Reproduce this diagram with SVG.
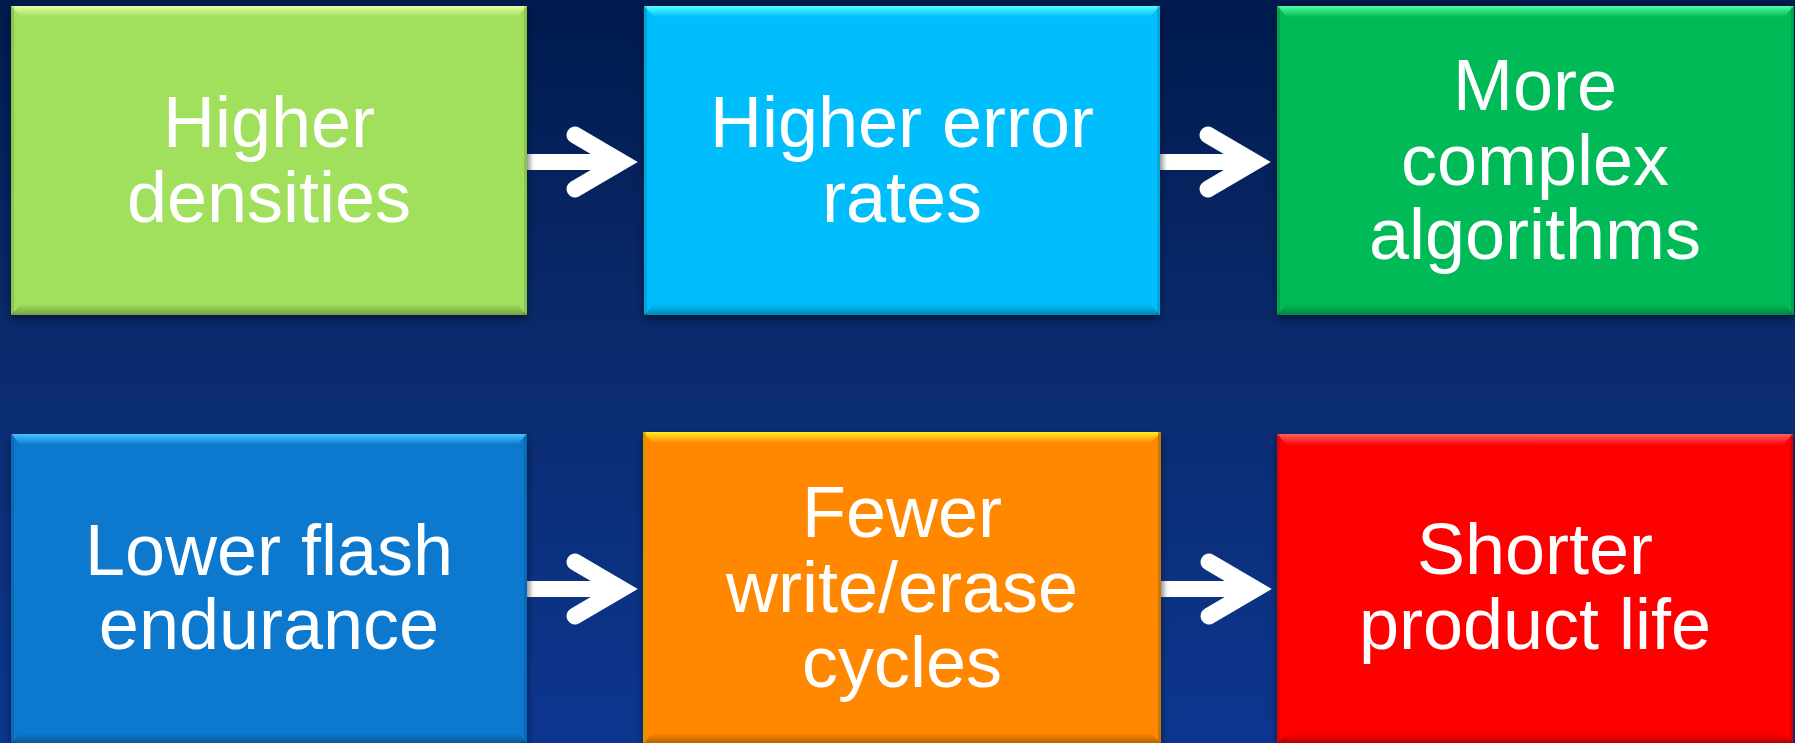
<svg xmlns="http://www.w3.org/2000/svg" width="1795" height="743" viewBox="0 0 1795 743">
<defs>
<linearGradient id="bg" x1="0" y1="0" x2="0" y2="1">
<stop offset="0" stop-color="#001A4D"/>
<stop offset="0.45" stop-color="#0A2A6C"/>
<stop offset="1" stop-color="#0C3690"/>
</linearGradient>
<linearGradient id="hl1" x1="0" y1="0" x2="0" y2="1"><stop offset="0" stop-color="#E4FFA8"/><stop offset="1" stop-color="#A0E05C"/></linearGradient>
<linearGradient id="hl2" x1="0" y1="0" x2="0" y2="1"><stop offset="0" stop-color="#50FFFF"/><stop offset="1" stop-color="#06BDFC"/></linearGradient>
<linearGradient id="hl3" x1="0" y1="0" x2="0" y2="1"><stop offset="0" stop-color="#50FF9C"/><stop offset="1" stop-color="#06BA58"/></linearGradient>
<linearGradient id="hl4" x1="0" y1="0" x2="0" y2="1"><stop offset="0" stop-color="#48C4FF"/><stop offset="1" stop-color="#0779CE"/></linearGradient>
<linearGradient id="hl5" x1="0" y1="0" x2="0" y2="1"><stop offset="0" stop-color="#FFF020"/><stop offset="1" stop-color="#FF8806"/></linearGradient>
<linearGradient id="hl6" x1="0" y1="0" x2="0" y2="1"><stop offset="0" stop-color="#FF6060"/><stop offset="1" stop-color="#FF0606"/></linearGradient>
<linearGradient id="dk" x1="0" y1="0" x2="0" y2="1"><stop offset="0" stop-color="#000" stop-opacity="0"/><stop offset="1" stop-color="#000" stop-opacity="0.28"/></linearGradient>
<linearGradient id="shaftg" x1="0" y1="0" x2="1" y2="0"><stop offset="0" stop-color="#C8C8C8"/><stop offset="0.08" stop-color="#FFFFFF"/><stop offset="1" stop-color="#FFFFFF"/></linearGradient>
<filter id="sh" x="-5%" y="-5%" width="110%" height="115%">
<feDropShadow dx="0" dy="4" stdDeviation="4" flood-color="#000" flood-opacity="0.45"/>
</filter>
<g id="arrow">
<rect x="527" y="154" width="80" height="16" fill="url(#shaftg)"/>
<polyline points="575,135 621,162 575,189" fill="none" stroke="#FFFFFF" stroke-width="17" stroke-linecap="round" stroke-linejoin="miter" stroke-miterlimit="10"/>
</g>
</defs>
<style>
.lbl{font-family:"Liberation Sans",Arial,sans-serif;font-size:72px;fill:#FFFFFF;text-anchor:middle}
.side{fill:#000;opacity:0.12}
</style>
<rect x="0" y="0" width="1795" height="743" fill="url(#bg)"/>

<g id="connectors">
<use href="#arrow"/>
<use href="#arrow" transform="translate(633,0)"/>
<use href="#arrow" transform="translate(0,427)"/>
<use href="#arrow" transform="translate(634,427)"/>
</g>

<g id="node-higher-densities">
<rect x="11" y="6" width="516" height="309" fill="#A0E05C" filter="url(#sh)"/>
<polygon points="11,6 527,6 517,17 21,17" fill="url(#hl1)"/>
<polygon points="21,304 517,304 527,315 11,315" fill="url(#dk)"/>
<rect class="side" x="11" y="6" width="3" height="309"/>
<rect class="side" x="524" y="6" width="3" height="309"/>
<text class="lbl" x="269" y="147">Higher</text>
<text class="lbl" x="269" y="222">densities</text>
</g>

<g id="node-higher-error-rates">
<rect x="644" y="6" width="516" height="309" fill="#06BDFC" filter="url(#sh)"/>
<polygon points="644,6 1160,6 1150,17 654,17" fill="url(#hl2)"/>
<polygon points="654,304 1150,304 1160,315 644,315" fill="url(#dk)"/>
<rect class="side" x="644" y="6" width="3" height="309"/>
<rect class="side" x="1157" y="6" width="3" height="309"/>
<text class="lbl" x="902" y="147">Higher error</text>
<text class="lbl" x="902" y="222">rates</text>
</g>

<g id="node-more-complex-algorithms">
<rect x="1277" y="6" width="517" height="309" fill="#06BA58" filter="url(#sh)"/>
<polygon points="1277,6 1794,6 1784,17 1287,17" fill="url(#hl3)"/>
<polygon points="1287,304 1784,304 1794,315 1277,315" fill="url(#dk)"/>
<rect class="side" x="1277" y="6" width="3" height="309"/>
<rect class="side" x="1791" y="6" width="3" height="309"/>
<text class="lbl" x="1535" y="110">More</text>
<text class="lbl" x="1535" y="185">complex</text>
<text class="lbl" x="1535" y="259">algorithms</text>
</g>

<g id="node-lower-flash-endurance">
<rect x="11" y="434" width="516" height="309" fill="#0779CE" filter="url(#sh)"/>
<polygon points="11,434 527,434 517,445 21,445" fill="url(#hl4)"/>
<polygon points="21,733 517,733 527,743 11,743" fill="url(#dk)"/>
<rect class="side" x="11" y="434" width="3" height="309"/>
<rect class="side" x="524" y="434" width="3" height="309"/>
<text class="lbl" x="269" y="575">Lower flash</text>
<text class="lbl" x="269" y="649">endurance</text>
</g>

<g id="node-fewer-write-erase-cycles">
<rect x="643" y="432" width="518" height="311" fill="#FF8806" filter="url(#sh)"/>
<polygon points="643,432 1161,432 1151,443 653,443" fill="url(#hl5)"/>
<polygon points="653,733 1151,733 1161,743 643,743" fill="url(#dk)"/>
<rect x="643" y="432" width="3" height="311" fill="#C8A000" opacity="0.6"/>
<rect x="1158" y="432" width="3" height="311" fill="#A07000" opacity="0.6"/>
<text class="lbl" x="902" y="537">Fewer</text>
<text class="lbl" x="902" y="612">write/erase</text>
<text class="lbl" x="902" y="687">cycles</text>
</g>

<g id="node-shorter-product-life">
<rect x="1277" y="434" width="516" height="309" fill="#FF0606" filter="url(#sh)"/>
<polygon points="1277,434 1793,434 1783,445 1287,445" fill="url(#hl6)"/>
<polygon points="1287,733 1783,733 1793,743 1277,743" fill="url(#dk)"/>
<rect class="side" x="1277" y="434" width="3" height="309"/>
<rect class="side" x="1790" y="434" width="3" height="309"/>
<text class="lbl" x="1535" y="574">Shorter</text>
<text class="lbl" x="1535" y="649">product life</text>
</g>
</svg>
